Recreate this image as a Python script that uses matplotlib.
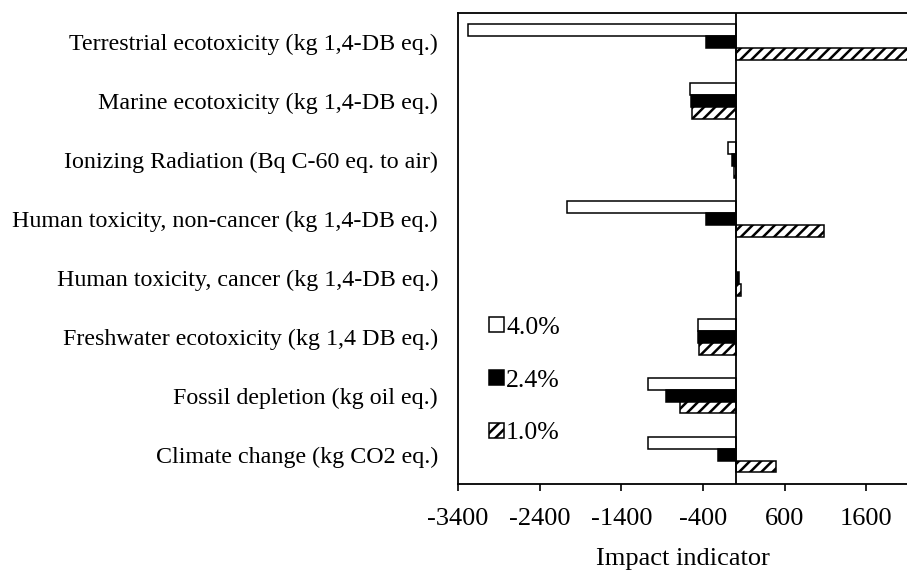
import numpy as np
import matplotlib.pyplot as plt

plt.rcParams['font.family'] = ['Liberation Serif', 'DejaVu Serif']
plt.rcParams['hatch.linewidth'] = 1.8

# impact categories, bottom to top
categories = ['Climate change (kg CO2 eq.)',
              'Fossil depletion (kg oil eq.)',
              'Freshwater ecotoxicity (kg 1,4 DB eq.)',
              'Human toxicity, cancer (kg 1,4-DB eq.)',
              'Human toxicity, non-cancer (kg 1,4-DB eq.)',
              'Ionizing Radiation (Bq C-60 eq. to air)',
              'Marine ecotoxicity (kg 1,4-DB eq.)',
              'Terrestrial ecotoxicity (kg 1,4-DB eq.)']

rate_40 = [-1070, -1070, -465, 5, -2070, -95, -555, -3280]
rate_24 = [-220, -855, -460, 40, -365, -45, -550, -365]
rate_10 = [495, -675, -445, 65, 1085, -15, -530, 2400]

xticks = np.arange(-3400, 2000, 1000)

fig, ax = plt.subplots(figsize=(9.07, 5.71), dpi=100)
fig.subplots_adjust(left=0.505, right=1.0, top=0.978, bottom=0.152)

y = np.arange(len(categories))
h = 0.2
ax.barh(y + h, rate_40, h, color='white', edgecolor='black', lw=1.1, label='4.0%')
ax.barh(y, rate_24, h, color='black', edgecolor='black', lw=1.1, label='2.4%')
ax.barh(y - h, rate_10, h, color='white', edgecolor='black', lw=1.1,
        hatch='///', label='1.0%')

ax.axvline(0, color='black', lw=1.3)

ax.set_xlim(-3400, 2100)
ax.set_ylim(-0.5, len(categories) - 0.5)
ax.set_xticks(xticks)
ax.set_xticklabels([str(v) for v in xticks])
ax.set_yticks(y)
ax.set_yticklabels(categories)
ax.tick_params(axis='y', length=0, pad=14.5, labelsize=17.3)
ax.tick_params(axis='x', length=5, width=1.2, direction='out', pad=12, labelsize=19)
ax.set_xlabel('Impact indicator', fontsize=19, labelpad=13)

for s in ['left', 'top', 'bottom']:
    ax.spines[s].set_linewidth(1.3)
ax.spines['right'].set_visible(False)

ax.legend(loc='upper left', bbox_to_anchor=(0.07, 0.355), frameon=False,
          fontsize=18.5, handlelength=0.55, handleheight=0.55,
          handletextpad=0.1, labelspacing=1.2, borderaxespad=0.0,
          borderpad=0.0)

plt.savefig('out.png', dpi=100)
